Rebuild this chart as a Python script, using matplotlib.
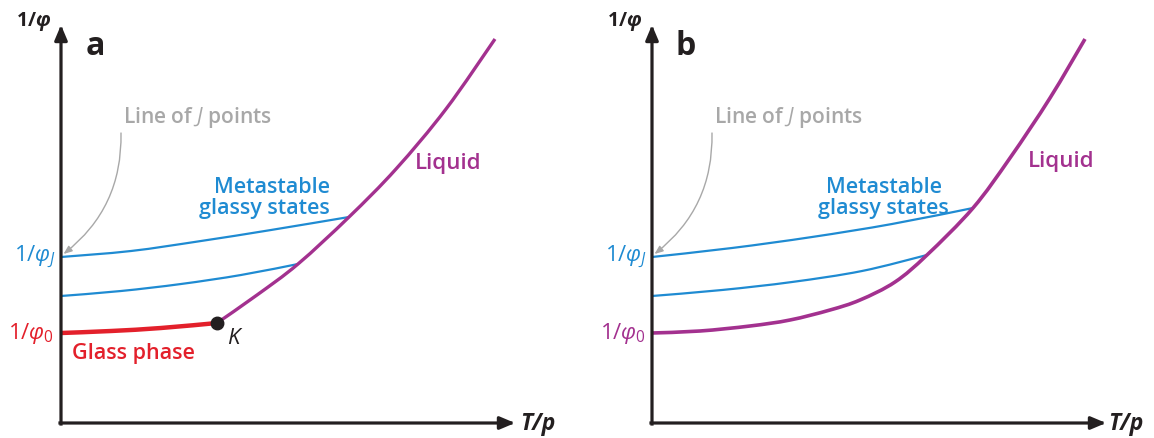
import matplotlib
matplotlib.use("Agg")
import matplotlib.pyplot as plt
from matplotlib.path import Path
from matplotlib.patches import PathPatch

plt.rcParams["font.family"] = ["Open Sans", "DejaVu Sans"]
plt.rcParams["mathtext.fontset"] = "custom"
plt.rcParams["mathtext.rm"] = "Open Sans"
plt.rcParams["mathtext.it"] = "Open Sans:italic"
plt.rcParams["mathtext.bf"] = "Open Sans:bold"
plt.rcParams["mathtext.bfit"] = "Open Sans:italic:bold"

# ---- colours ----
BLACK = "#231f20"
BLUE = "#1f8bd2"
PURPLE = "#a3318f"
RED = "#e3202b"
GREY = "#a8a8a8"

# ---- panel a: glass phase below the Kauzmann point ----
a_glass_x = [0.0, 5.0, 10.0, 15.6]
a_glass_y = [9.0, 9.2, 9.5, 10.0]
a_liquid_x = [15.6, 19.6, 23.7, 28.8, 33.5, 38.5, 43.4]
a_liquid_y = [10.0, 12.8, 15.9, 20.6, 25.4, 31.4, 38.4]
a_meta_hi_x = [0.0, 7.0, 14.0, 21.0, 28.8]
a_meta_hi_y = [16.6, 17.2, 18.2, 19.3, 20.6]
a_meta_lo_x = [0.0, 6.0, 12.0, 18.0, 23.7]
a_meta_lo_y = [12.7, 13.2, 13.9, 14.8, 15.9]
a_kauzmann = (15.6, 10.0)

# ---- panel b: liquid branch continues down to 1/phi_0 ----
b_liquid_x = [0.0, 4.8, 9.8, 13.8, 17.8, 20.8, 24.3, 27.5, 32.1, 35.8, 39.8, 43.3]
b_liquid_y = [9.0, 9.2, 9.7, 10.3, 11.3, 12.3, 14.1, 16.8, 21.5, 26.5, 32.5, 38.4]
b_meta_hi_x = [0.0, 8.0, 16.0, 24.0, 32.1]
b_meta_hi_y = [16.6, 17.5, 18.6, 19.9, 21.5]
b_meta_lo_x = [0.0, 7.0, 14.0, 21.0, 27.5]
b_meta_lo_y = [12.7, 13.3, 14.1, 15.2, 16.8]

phi_J = 16.6
phi_0 = 9.0
x_end = 45.4
y_end = 39.8

fig = plt.figure(figsize=(11.54, 4.38), dpi=100)
ax_a = fig.add_axes([0.0, 0.0, 0.5, 1.0])
ax_b = fig.add_axes([0.5, 0.0, 0.5, 1.0])
ax_a.set_xlim(-6.1, 51.6)
ax_b.set_xlim(-7.5, 50.2)
for ax in (ax_a, ax_b):
    ax.set_ylim(-1.5, 42.3)
    ax.axis("off")


def smooth_curve(ax, xs, ys, **kw):
    """Draw a smooth curve through the given points (Catmull-Rom as Bezier)."""
    pts = list(zip(xs, ys))
    n = len(pts)
    verts = [pts[0]]
    codes = [Path.MOVETO]
    for i in range(n - 1):
        p0 = pts[i - 1] if i > 0 else pts[i]
        p1 = pts[i]
        p2 = pts[i + 1]
        p3 = pts[i + 2] if i + 2 < n else pts[i + 1]
        c1 = (p1[0] + (p2[0] - p0[0]) / 6.0, p1[1] + (p2[1] - p0[1]) / 6.0)
        c2 = (p2[0] - (p3[0] - p1[0]) / 6.0, p2[1] - (p3[1] - p1[1]) / 6.0)
        verts += [c1, c2, p2]
        codes += [Path.CURVE4] * 3
    patch = PathPatch(Path(verts, codes), facecolor="none",
                      capstyle="butt", **kw)
    ax.add_patch(patch)
    return patch


def draw_axes(ax, letter, tp_x):
    arrow = dict(arrowstyle="-|>,head_length=0.9,head_width=0.38",
                 color=BLACK, lw=2.3, shrinkA=0, shrinkB=0,
                 capstyle="projecting")
    ax.annotate("", xy=(0, y_end), xytext=(0, -0.1), arrowprops=arrow)
    ax.annotate("", xy=(x_end, 0), xytext=(-0.1, 0), arrowprops=arrow)
    ax.text(-1.0, 40.1, r"$\mathbf{1/}\mathbfit{\varphi}$", ha="right",
            va="center", fontsize=14, color=BLACK)
    ax.text(3.4, 37.6, letter, ha="center", va="center", fontsize=23,
            fontweight="bold", color=BLACK)
    ax.text(tp_x, -0.1, "T/p", ha="left", va="center", fontsize=16.5,
            fontweight="bold", style="italic", color=BLACK)
    ax.text(13.6, 30.5, r"Line of $\mathit{J}$ points", ha="center",
            va="center", fontsize=15, fontweight="semibold", color=GREY)
    ax.annotate("", xy=(0.25, 16.9), xytext=(6.0, 29.0),
                arrowprops=dict(arrowstyle="-|>,head_length=0.5,head_width=0.2",
                                color=GREY, lw=1.0, shrinkA=0, shrinkB=0,
                                connectionstyle="arc3,rad=-0.25"))
    ax.text(-0.5, phi_J, r"1/$\varphi_J$", ha="right", va="center",
            fontsize=16, color=BLUE)


# panel a
draw_axes(ax_a, "a", 45.9)
smooth_curve(ax_a, a_meta_hi_x, a_meta_hi_y, edgecolor=BLUE, lw=1.6)
smooth_curve(ax_a, a_meta_lo_x, a_meta_lo_y, edgecolor=BLUE, lw=1.6)
smooth_curve(ax_a, a_liquid_x, a_liquid_y, edgecolor=PURPLE, lw=2.4)
smooth_curve(ax_a, a_glass_x, a_glass_y, edgecolor=RED, lw=3.2)
ax_a.plot(*a_kauzmann, "o", color=BLACK, ms=9, zorder=5)
ax_a.text(a_kauzmann[0] + 1.0, a_kauzmann[1] - 1.6, "K", style="italic",
          fontsize=16, ha="left", va="center", color=BLACK)
ax_a.text(7.2, 7.0, "Glass phase", ha="center", va="center", fontsize=15.5,
          fontweight="semibold", color=RED)
ax_a.text(-0.7, phi_0, r"1/$\varphi_0$", ha="right", va="center",
          fontsize=16, color=RED)
ax_a.text(26.9, 22.5, "Metastable\nglassy states", ha="right", va="center",
          ma="right", fontsize=15.5, fontweight="semibold", color=BLUE,
          linespacing=1.05)
ax_a.text(35.4, 25.9, "Liquid", ha="left", va="center", fontsize=16,
          fontweight="semibold", color=PURPLE)

# panel b
draw_axes(ax_b, "b", 45.6)
smooth_curve(ax_b, b_meta_hi_x, b_meta_hi_y, edgecolor=BLUE, lw=1.6)
smooth_curve(ax_b, b_meta_lo_x, b_meta_lo_y, edgecolor=BLUE, lw=1.6)
smooth_curve(ax_b, b_liquid_x, b_liquid_y, edgecolor=PURPLE, lw=2.6)
ax_b.text(-0.6, phi_0, r"1/$\varphi_0$", ha="right", va="center",
          fontsize=16, color=PURPLE)
ax_b.text(29.7, 22.5, "Metastable\nglassy states", ha="right", va="center",
          ma="center", fontsize=15.5, fontweight="semibold", color=BLUE,
          linespacing=1.05)
ax_b.text(37.6, 26.1, "Liquid", ha="left", va="center", fontsize=16,
          fontweight="semibold", color=PURPLE)

fig.savefig("out.png", dpi=100)
